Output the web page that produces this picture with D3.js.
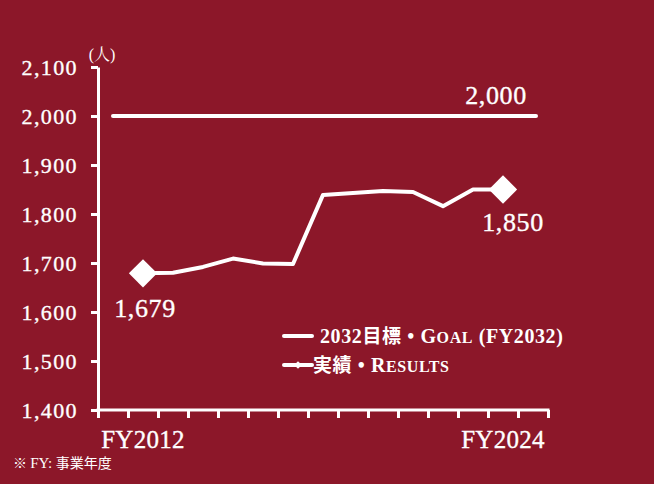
<!DOCTYPE html>
<html><head><meta charset="utf-8">
<script src="https://cdn.jsdelivr.net/npm/d3@7/dist/d3.min.js"></script>
<style>
html,body{margin:0;padding:0;background:#8c1729;}
svg{display:block;}
</style></head>
<body>
<svg id="chart" width="654" height="484"></svg>
<script>
const years = ["FY2011","FY2012","FY2013","FY2014","FY2015","FY2016","FY2017","FY2018","FY2019","FY2020","FY2021","FY2022","FY2023","FY2024","FY2025"];
const resultYears = ["FY2012","FY2013","FY2014","FY2015","FY2016","FY2017","FY2018","FY2019","FY2020","FY2021","FY2022","FY2023","FY2024"];
const resultValues = [1679,1680,1692,1709,1699,1698,1839,1843,1847,1845,1816,1850,1850];
const goalValue = 2000;
const goalRange = ["FY2011","FY2025"];
const yTicks = [1400,1500,1600,1700,1800,1900,2000,2100];
const xLabels = ["FY2012","FY2024"];
const unitLabel = "(人)";
const footnote = "※ FY: 事業年度";

(function(){
const W = 654, H = 484;
const mLeft = 98, mRight = 548, mTop = 67, mBottom = 410;
const serif = "'Liberation Serif','Noto Serif CJK JP','Noto Sans CJK JP',serif";
const white = "#ffffff";

const svg = d3.select("#chart");
svg.append("rect").attr("width",W).attr("height",H).attr("fill","#8c1729");

const x = d3.scaleBand().domain(years).range([mLeft,mRight]).padding(0);
const xEdge = d3.scaleLinear().domain([0,years.length]).range([mLeft,mRight]);
const y = d3.scaleLinear().domain([1400,2100]).range([mBottom,mTop]);

function thicken(sel){ return sel.attr("stroke",white).attr("stroke-width",0.35).attr("paint-order","stroke"); }

// Y axis
const yAxis = svg.append("g").attr("transform",`translate(${mLeft},0)`)
  .call(d3.axisLeft(y).tickValues(yTicks).tickSize(7).tickSizeOuter(0).tickPadding(13).tickFormat(d3.format(",")));
yAxis.selectAll("path,line").attr("stroke",white).attr("stroke-width",3);
thicken(yAxis.selectAll("text").attr("fill",white).style("font-family",serif).style("font-size","22px").style("letter-spacing","1.4px"));

// X axis ticks
const xAxis = svg.append("g").attr("transform",`translate(0,${mBottom})`)
  .call(d3.axisBottom(xEdge).tickValues(d3.range(years.length+1)).tickSize(8).tickSizeOuter(0).tickFormat(""));
xAxis.selectAll("path,line").attr("stroke",white).attr("stroke-width",3);
xAxis.select("path").attr("d",`M${mLeft-1.5},0H${mRight+1.5}`);

// X labels
const xLab = svg.append("g").attr("transform",`translate(0,${mBottom})`)
  .call(d3.axisBottom(x).tickValues(xLabels).tickSize(0).tickPadding(20));
xLab.select("path").remove();
thicken(xLab.selectAll("text").attr("fill",white).style("font-family",serif).style("font-size","25px").style("letter-spacing","0.3px"));

// Unit label
svg.append("text").attr("x",102).attr("y",60).attr("text-anchor","middle")
  .attr("fill",white).style("font-family",serif).style("font-size","16px").text(unitLabel);

// Goal line
svg.append("line")
  .attr("x1",x(goalRange[0])+x.bandwidth()/2).attr("x2",x(goalRange[1])+x.bandwidth()/2+3)
  .attr("y1",y(goalValue)).attr("y2",y(goalValue))
  .attr("stroke",white).attr("stroke-width",4).attr("stroke-linecap","round");

// Results line
const pts = resultYears.map((yr,i)=>({yr, v:resultValues[i]}));
const line = d3.line().x(d=>x(d.yr)+x.bandwidth()/2).y(d=>y(d.v));
svg.append("path").datum(pts).attr("d",line).attr("fill","none")
  .attr("stroke",white).attr("stroke-width",4).attr("stroke-linejoin","round");

[pts[0], pts[pts.length-1]].forEach(d=>{
  svg.append("path").attr("d",d3.symbol().type(d3.symbolSquare).size(400)())
    .attr("transform",`translate(${x(d.yr)+x.bandwidth()/2},${y(d.v)}) rotate(45)`)
    .attr("fill",white);
});

// Value labels
const fmt = d3.format(",");
function vlabel(txt, cx, by){
  thicken(svg.append("text").attr("x",cx).attr("y",by).attr("text-anchor","middle")
    .attr("fill",white).style("font-family",serif).style("font-size","26px").style("letter-spacing","0.6px").text(txt));
}
vlabel(fmt(goalValue), x("FY2023")+x.bandwidth()/2+23, 104);
vlabel(fmt(pts[pts.length-1].v), x("FY2024")+x.bandwidth()/2+10, 231);
vlabel(fmt(pts[0].v), x("FY2012")+x.bandwidth()/2+2, 317);

// Legend
const lg = svg.append("g");
lg.append("line").attr("x1",284).attr("x2",312).attr("y1",336).attr("y2",336)
  .attr("stroke",white).attr("stroke-width",4).attr("stroke-linecap","round");
lg.append("line").attr("x1",284).attr("x2",312).attr("y1",365).attr("y2",365)
  .attr("stroke",white).attr("stroke-width",4).attr("stroke-linecap","round");
lg.append("path").attr("d",d3.symbol().type(d3.symbolSquare).size(30)())
  .attr("transform","translate(298,365) rotate(45)").attr("fill",white);
function legendText(xp, yp, parts){
  const t = lg.append("text").attr("x",xp).attr("y",yp).attr("fill",white)
    .style("font-family",serif).style("font-size","20px").style("font-weight","bold").style("letter-spacing","0.6px");
  parts.forEach(p=>{
    const s = t.append("tspan").text(p.t);
    if(p.sc) s.style("font-size","16px");
    if(p.cjk) s.style("font-family","'Noto Sans CJK JP',sans-serif").style("font-size","19px");
  });
}
legendText(320, 343, [{t:"2032"},{t:"目標",cjk:true},{t:" • "},{t:"G"},{t:"OAL",sc:true},{t:" (FY2032)"}]);
legendText(313, 372, [{t:"実績",cjk:true},{t:" • "},{t:"R"},{t:"ESULTS",sc:true}]);

// Footnote
const fn = svg.append("text").attr("x",13).attr("y",468).attr("fill",white).style("font-size","14px");
fn.append("tspan").style("font-family","'Noto Sans CJK JP',sans-serif").text("※ ");
fn.append("tspan").style("font-family",serif).style("font-size","15px").text("FY: ");
fn.append("tspan").style("font-family","'Noto Sans CJK JP',sans-serif").text("事業年度");
})();
</script>
</body></html>
